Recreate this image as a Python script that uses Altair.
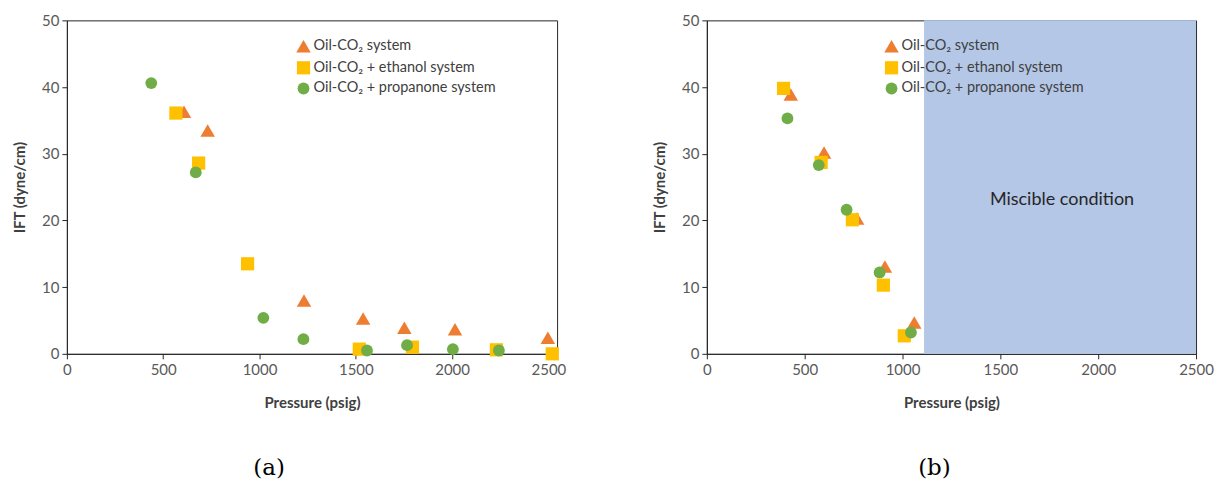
import altair as alt
import pandas as pd

series = ["Oil-CO₂ system", "Oil-CO₂ + ethanol system", "Oil-CO₂ + propanone system"]
shapes = ["triangle-up", "square", "circle"]
colors = ["#ED7D31", "#FFC000", "#70AD47"]
marker_sizes = [210, 140, 115]

# Panel (a)
a_co2_p = [608, 731, 1231, 1538, 1752, 2015, 2497]
a_co2_ift = [36.3, 33.5, 8.0, 5.3, 3.9, 3.7, 2.4]
a_eth_p = [566, 684, 938, 1518, 1794, 2230, 2520]
a_eth_ift = [36.1, 28.6, 13.5, 0.7, 1.0, 0.6, 0.0]
a_pro_p = [438, 669, 1020, 1228, 1558, 1766, 2004, 2243]
a_pro_ift = [40.6, 27.2, 5.4, 2.2, 0.5, 1.3, 0.7, 0.5]

# Panel (b)
b_co2_p = [429, 599, 768, 910, 1060]
b_co2_ift = [38.9, 30.2, 20.3, 13.1, 4.7]
b_eth_p = [392, 584, 744, 902, 1009]
b_eth_ift = [39.8, 28.7, 20.1, 10.3, 2.7]
b_pro_p = [412, 572, 714, 883, 1043]
b_pro_ift = [35.3, 28.3, 21.6, 12.2, 3.2]

miscible_start = 1110
miscible_end = 2500
miscible_label = "Miscible condition"

x_ticks = [0, 500, 1000, 1500, 2000, 2500]
y_ticks = [0, 10, 20, 30, 40, 50]

FONT = "Lato"


def make_df(groups):
    rows = []
    for name, ps, vs in groups:
        for p, v in zip(ps, vs):
            rows.append({"Pressure": p, "IFT": v, "System": name})
    return pd.DataFrame(rows)


df_a = make_df([(series[0], a_co2_p, a_co2_ift), (series[1], a_eth_p, a_eth_ift), (series[2], a_pro_p, a_pro_ift)])
df_b = make_df([(series[0], b_co2_p, b_co2_ift), (series[1], b_eth_p, b_eth_ift), (series[2], b_pro_p, b_pro_ift)])


def axis_x():
    return alt.Axis(values=x_ticks, format="d", grid=False, tickSize=5, labelPadding=4, titlePadding=18,
                    labelFontSize=15, titleFontSize=15, labelFont=FONT, titleFont=FONT,
                    labelColor="#595959", titleColor="#404040", domainColor="#262626",
                    tickColor="#262626", labelFlush=False)


def axis_y():
    return alt.Axis(values=y_ticks, format="d", grid=False, tickSize=5, labelPadding=3, titlePadding=14,
                    labelFontSize=15, titleFontSize=15, labelFont=FONT, titleFont=FONT,
                    labelColor="#595959", titleColor="#404040", domainColor="#262626",
                    tickColor="#262626")


def points(df, xmax, legend_x):
    return alt.Chart(df).mark_point(filled=True, opacity=1).encode(
        x=alt.X("Pressure:Q", title="Pressure (psig)", scale=alt.Scale(domain=[0, xmax], nice=False), axis=axis_x()),
        y=alt.Y("IFT:Q", title="IFT (dyne/cm)", scale=alt.Scale(domain=[0, 50], nice=False), axis=axis_y()),
        color=alt.Color("System:N", scale=alt.Scale(domain=series, range=colors),
                        legend=alt.Legend(title=None, orient="none", legendX=legend_x, legendY=18,
                                          labelFont=FONT, labelFontSize=14.5, labelColor="#404040",
                                          symbolSize=85, rowPadding=1, symbolOpacity=1,
                                          labelOffset=2, labelLimit=400)),
        shape=alt.Shape("System:N", scale=alt.Scale(domain=series, range=shapes)),
        size=alt.Size("System:N", scale=alt.Scale(domain=series, range=marker_sizes), legend=None),
    )


def caption(text, dx):
    return alt.TitleParams(text=text, orient="bottom", font="DejaVu Serif", fontSize=23,
                           fontWeight="normal", color="#000000", dx=dx, offset=46, anchor="middle")


left = points(df_a, 2545, 229).properties(width=491, height=334, title=caption("(a)", -43))

region = pd.DataFrame({"x": [miscible_start], "x2": [miscible_end], "y": [0], "y2": [50],
                       "label": [miscible_label]})
shade = alt.Chart(region).mark_rect(color="#B4C7E7").encode(
    x=alt.X("x:Q", scale=alt.Scale(domain=[0, 2500], nice=False)), x2="x2:Q",
    y=alt.Y("y:Q", scale=alt.Scale(domain=[0, 50], nice=False)), y2="y2:Q")
label = alt.Chart(region).transform_calculate(
    xm="(datum.x + datum.x2) / 2 + 10", ym="datum.y2 * 0.46"
).mark_text(font=FONT, fontSize=18, color="#262626").encode(
    x=alt.X("xm:Q"), y=alt.Y("ym:Q"), text="label:N")

right = alt.layer(shade, label, points(df_b, 2500, 177)).properties(
    width=490, height=334, title=caption("(b)", -17))

chart = alt.hconcat(left, right, spacing=150, bounds="flush").resolve_scale(
    color="independent", shape="independent", size="independent").resolve_legend(
    color="independent", shape="independent").configure(
    padding={"left": 12, "top": 12, "right": 5, "bottom": 5}, background="white"
).configure_view(stroke="#262626", strokeWidth=1)

chart.save("out.html", embed_options={"renderer": "svg", "actions": False})
